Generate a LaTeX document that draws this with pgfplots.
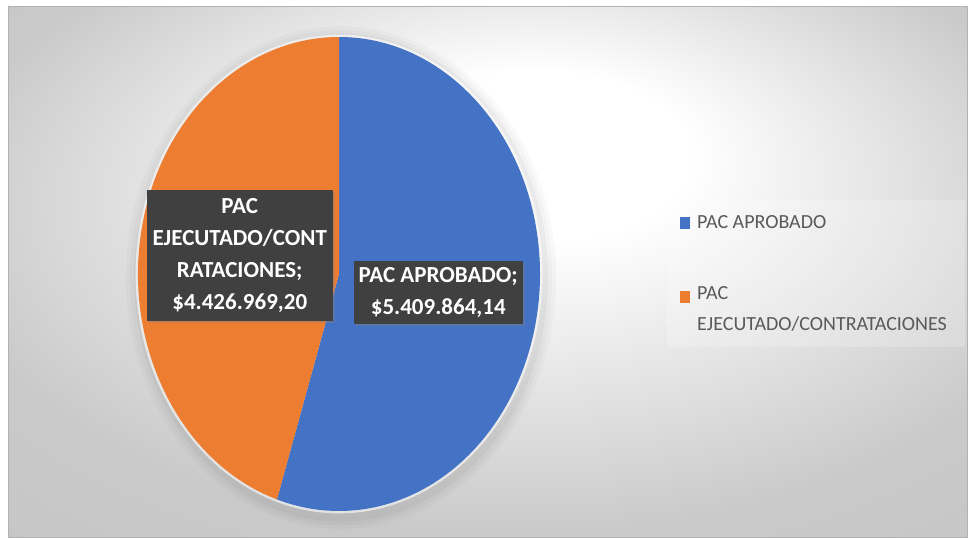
\documentclass[border=0pt]{standalone}
\usepackage{pgfplots}
\pgfplotsset{compat=1.18}
\usepackage{pgfplotstable}
\usepackage{fontspec}
\setmainfont{Carlito}
\usetikzlibrary{shadows}
\definecolor{pieblue}{HTML}{4472C4}
\definecolor{pieorange}{HTML}{ED7D31}
\definecolor{lblbox}{HTML}{404040}
\definecolor{legtext}{HTML}{595959}
\pgfdeclareradialshading{bgsh}{\pgfpoint{3bp}{13bp}}{color(0bp)=(white); color(8bp)=(white); color(30bp)=(black!21); color(50bp)=(black!24)}
\pgfplotstableread{
label value
aprobado 5409864.14
ejecutado 4426969.20
}\piedata
\begin{document}
\begin{tikzpicture}
\begin{scope}[x=1pt,y=1pt]
\fill[white] (0,0) rectangle (974,538);
\shade[shading=bgsh] (8,1) rectangle (967,531);
\draw[black!30, line width=1pt] (8,1) rectangle (967,531);
\fill[white, opacity=0.2] (667,191) rectangle (965,338);
\end{scope}
\pgfplotstablegetelem{0}{value}\of\piedata \edef\va{\pgfplotsretval}
\pgfplotstablegetelem{1}{value}\of\piedata \edef\vb{\pgfplotsretval}
\edef\angA{\fpeval{360*\va/(\va+\vb)}}
\edef\angB{\fpeval{360*\vb/(\va+\vb)}}
\edef\endA{\fpeval{90-\angA}}
\edef\endB{\fpeval{90-\angA-\angB}}
\edef\midA{\fpeval{90-\angA/2}}
\edef\midB{\fpeval{90-\angA-\angB/2}}
\begin{axis}[at={(339pt,264pt)}, anchor=center, scale only axis, width=402pt, height=474pt,
  hide axis, xmin=-1, xmax=1, ymin=-1, ymax=1, clip=false]
\fill[black, opacity=0.025] (axis cs:0.01,-0.015) ellipse [x radius=1.07, y radius=1.06];
\fill[black, opacity=0.025] (axis cs:0.01,-0.015) ellipse [x radius=1.05, y radius=1.045];
\fill[black, opacity=0.035] (axis cs:0.01,-0.015) ellipse [x radius=1.03, y radius=1.03];
\fill[white, opacity=0.6] (axis cs:0,0) ellipse [x radius=1.012, y radius=1.01];
\fill[pieblue] (axis cs:0,0) -- (axis cs:0,1) arc[start angle=90, end angle=\endA, x radius=1, y radius=1] -- cycle;
\fill[pieorange] (axis cs:0,0) -- (axis cs:{cos(\endA)},{sin(\endA)}) arc[start angle=\endA, end angle=\endB, x radius=1, y radius=1] -- cycle;
\node[fill=lblbox, text=white, font=\fontsize{23}{32}\selectfont\bfseries, align=center,
  inner xsep=5pt, inner ysep=6pt, drop shadow={opacity=0.35, shadow xshift=2pt, shadow yshift=-2pt}]
  at (axis cs:{0.5*cos(\midA)},{0.5*sin(\midA)}) {PAC APROBADO;\\\$5.409.864,14};
\node[fill=lblbox, text=white, font=\fontsize{23}{32}\selectfont\bfseries, align=center,
  inner xsep=6pt, inner ysep=8pt, drop shadow={opacity=0.35, shadow xshift=2pt, shadow yshift=-2pt}]
  at (axis cs:{0.5*cos(\midB)},{0.5*sin(\midB)}) {PAC\\EJECUTADO/CONT\\RATACIONES;\\\$4.426.969,20};
\end{axis}
\begin{scope}[x=1pt,y=1pt]
\fill[pieblue] (680,309) rectangle (690,321);
\node[anchor=base west, text=legtext, font=\fontsize{20}{31}\selectfont, inner sep=0] at (697,309) {PAC APROBADO};
\fill[pieorange] (680,235) rectangle (690,247);
\node[anchor=base west, text=legtext, font=\fontsize{20}{31}\selectfont, inner sep=0] at (697,238) {PAC};
\node[anchor=base west, text=legtext, font=\fontsize{20}{31}\selectfont, inner sep=0] at (697,207) {EJECUTADO/CONTRATACIONES};
\end{scope}
\end{tikzpicture}
\end{document}
